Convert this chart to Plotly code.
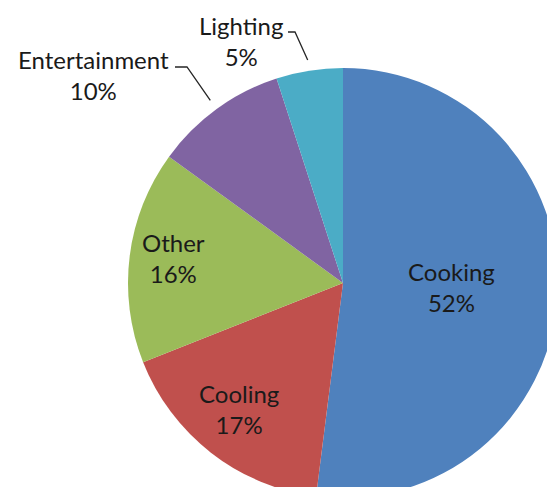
import numpy as np
import plotly.graph_objects as go

# Energy use by category (percent)
categories = ["Cooking", "Cooling", "Other", "Entertainment", "Lighting"]
shares = [52, 17, 16, 10, 5]
colors = ["#4F81BD", "#C0504D", "#9BBB59", "#8064A2", "#4BACC6"]

# Canvas is a bit larger than the viewport so the pie bleeds off the right/bottom edges
W, H = 560, 500
CX, CY, R = 343, 283, 215  # pie centre and radius in pixels


def px(x):
    return x / W


def py(y):
    return 1 - y / H


fig = go.Figure(
    go.Pie(
        labels=categories,
        values=shares,
        sort=False,
        direction="clockwise",
        rotation=0,
        marker=dict(colors=colors, line=dict(color="white", width=0)),
        textinfo="none",
        hoverinfo="label+percent",
        showlegend=False,
        domain=dict(x=[px(CX - R), px(CX + R)], y=[py(CY + R), py(CY - R)]),
    )
)

# Label block centres (pixels) and which ones sit outside with leader lines
label_pos = {
    "Cooking": (451, 287),
    "Cooling": (239, 409),
    "Other": (173, 258),
    "Entertainment": (93, 75),
    "Lighting": (241, 41),
}
leader_start = {
    "Entertainment": [(175, 67), (187, 67)],
    "Lighting": [(288, 32), (295, 32)],
}

total = float(sum(shares))
cum = np.cumsum([0] + shares[:-1])
font = dict(family="Lato, 'Open Sans', sans-serif", size=24, color="#1a1a1a")

annotations = []
shapes = []
for name, val, start in zip(categories, shares, cum):
    pct = round(100 * val / total)
    x, y = label_pos[name]
    annotations.append(
        dict(
            text=f"{name}<br>{pct}%",
            x=px(x), y=py(y), xref="paper", yref="paper",
            xanchor="center", yanchor="middle",
            showarrow=False, font=font, align="center",
        )
    )
    if name in leader_start:
        # end of the leader sits just outside the slice at its mid-angle
        mid = 2 * np.pi * (start + val / 2) / total
        ex = CX + 1.05 * R * np.sin(mid)
        ey = CY - 1.05 * R * np.cos(mid)
        pts = leader_start[name] + [(ex, ey)]
        path = "M " + " L ".join(f"{px(a):.5f},{py(b):.5f}" for a, b in pts)
        shapes.append(
            dict(type="path", path=path, xref="paper", yref="paper",
                 line=dict(color="#262626", width=1.3))
        )

fig.update_layout(
    width=W,
    height=H,
    margin=dict(l=0, r=0, t=0, b=0),
    paper_bgcolor="white",
    plot_bgcolor="white",
    annotations=annotations,
    shapes=shapes,
)

fig.write_html(
    "out.html",
    config={"displayModeBar": False},
    post_script="document.documentElement.style.overflow='hidden';document.body.style.overflow='hidden';document.body.style.margin='0';",
)
